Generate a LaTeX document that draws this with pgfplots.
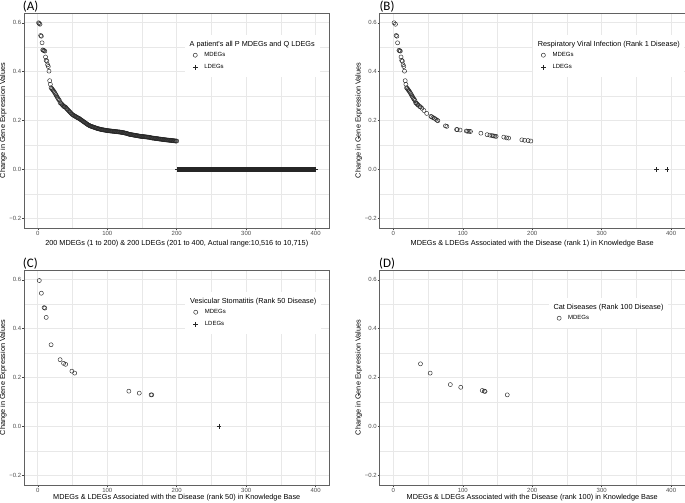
\documentclass[border=0pt]{standalone}
\usepackage{fontspec}
\setmainfont{Liberation Sans}
\newfontfamily\panelfont{Carlito}
\usepackage{pgfplots}
\usepackage{pgfplotstable}
\pgfplotsset{compat=1.18}

\definecolor{gridc}{RGB}{232,232,232}

% panel (A): all 200 MDEGs of the patient
\pgfplotstableread{
x y
1 0.600
2 0.597
3 0.594
4 0.548
5 0.545
6 0.518
7 0.489
8 0.487
9 0.486
10 0.484
11 0.460
12 0.446
13 0.443
14 0.428
15 0.421
16 0.402
17 0.363
18 0.348
19 0.334
20 0.331
21 0.327
22 0.323
23 0.319
24 0.315
25 0.310
26 0.305
27 0.300
28 0.295
29 0.290
30 0.286
31 0.282
32 0.273
33 0.271
34 0.268
35 0.265
36 0.262
37 0.258
38 0.257
39 0.256
40 0.254
41 0.250
42 0.247
43 0.244
44 0.241
45 0.238
46 0.235
47 0.232
48 0.229
49 0.226
50 0.224
51 0.222
52 0.220
53 0.218
54 0.217
55 0.215
56 0.213
57 0.212
58 0.210
59 0.209
60 0.207
61 0.205
62 0.203
63 0.201
64 0.199
65 0.197
66 0.195
67 0.193
68 0.191
69 0.189
70 0.187
71 0.185
72 0.183
73 0.181
74 0.180
75 0.178
76 0.177
77 0.176
78 0.175
79 0.174
80 0.173
81 0.172
82 0.171
83 0.170
84 0.169
85 0.168
86 0.167
87 0.166
88 0.166
89 0.165
90 0.164
91 0.163
92 0.163
93 0.162
94 0.162
95 0.161
96 0.161
97 0.160
98 0.160
99 0.159
100 0.159
101 0.158
102 0.158
103 0.158
104 0.157
105 0.157
106 0.157
107 0.156
108 0.156
109 0.156
110 0.155
111 0.155
112 0.155
113 0.154
114 0.154
115 0.154
116 0.153
117 0.153
118 0.153
119 0.152
120 0.152
121 0.151
122 0.151
123 0.150
124 0.150
125 0.149
126 0.148
127 0.148
128 0.147
129 0.146
130 0.145
131 0.144
132 0.143
133 0.143
134 0.142
135 0.142
136 0.141
137 0.141
138 0.140
139 0.140
140 0.139
141 0.139
142 0.138
143 0.138
144 0.137
145 0.137
146 0.136
147 0.136
148 0.135
149 0.135
150 0.135
151 0.134
152 0.134
153 0.134
154 0.133
155 0.133
156 0.133
157 0.132
158 0.132
159 0.132
160 0.131
161 0.131
162 0.130
163 0.129
164 0.129
165 0.128
166 0.128
167 0.128
168 0.127
169 0.127
170 0.126
171 0.126
172 0.126
173 0.125
174 0.125
175 0.124
176 0.124
177 0.124
178 0.123
179 0.123
180 0.122
181 0.122
182 0.122
183 0.121
184 0.121
185 0.121
186 0.120
187 0.120
188 0.120
189 0.119
190 0.119
191 0.119
192 0.118
193 0.118
194 0.118
195 0.117
196 0.117
197 0.117
198 0.116
199 0.116
200 0.116
}\mdegA

% panel (B): rank 1 disease
\pgfplotstableread{
x y
1 0.600
3 0.594
4 0.548
5 0.545
6 0.518
8 0.487
9 0.486
10 0.484
11 0.460
12 0.446
13 0.443
14 0.428
15 0.421
16 0.402
17 0.363
18 0.348
19 0.334
20 0.331
21 0.327
22 0.323
23 0.319
24 0.315
25 0.310
26 0.305
27 0.300
28 0.295
29 0.290
30 0.286
31 0.282
32 0.273
33 0.271
34 0.268
35 0.265
36 0.262
38 0.257
39 0.256
41 0.250
44 0.241
48 0.229
54 0.217
55 0.215
57 0.212
59 0.209
61 0.205
63 0.201
64 0.199
75 0.178
77 0.176
91 0.163
92 0.163
96 0.161
105 0.157
107 0.156
109 0.156
111 0.155
126 0.148
135 0.142
139 0.140
142 0.138
144 0.137
146 0.136
148 0.135
159 0.132
163 0.129
166 0.128
185 0.121
189 0.119
194 0.118
198 0.116
}\mdegB

% panel (C): rank 50 disease
\pgfplotstableread{
x y
2 0.597
5 0.545
9 0.486
10 0.484
12 0.446
19 0.334
32 0.273
37 0.258
40 0.254
49 0.226
53 0.218
131 0.144
146 0.136
163 0.129
164 0.129
}\mdegC

% panel (D): rank 100 disease
\pgfplotstableread{
x y
39 0.256
53 0.218
82 0.171
97 0.160
128 0.147
131 0.144
132 0.143
164 0.129
}\mdegD

\tikzset{
  legtitle/.style={anchor=base west, inner sep=0pt, font=\fontsize{7.3}{8}\selectfont},
  panellabel/.style={anchor=base west, inner sep=0pt, font=\panelfont\fontsize{13}{15}\selectfont},
}

\pgfplotsset{
  gg/.style={
    scale only axis, width=305.5pt, height=215pt,
    xmin=-20, xmax=420, ymin=-0.24, ymax=0.64,
    xtick={0,100,200,300,400}, xticklabels={0,100,200,300,400},
    ytick={-0.2,0,0.2,0.4,0.6}, yticklabels={−0.2,0.0,0.2,0.4,0.6},
    minor xtick={50,150,250,350}, minor ytick={-0.1,0.1,0.3,0.5},
    grid=both,
    major grid style={draw=gridc, line width=0.9pt},
    minor grid style={draw=gridc, line width=0.45pt},
    axis line style={draw=black!62, line width=0.75pt},
    tick align=outside, major tick length=2pt, minor tick length=0pt,
    xtick pos=lower, ytick pos=left,
    major tick style={draw=black!75, line width=0.5pt},
    tick label style={font=\fontsize{6}{7}\selectfont, text=black!70},
    xticklabel style={inner sep=0.9pt},
    yticklabel style={inner sep=0.6pt},
    every axis y label/.style={at={(axis description cs:-0.068,0.5)}, rotate=90,
      anchor=center, font=\fontsize{7.3}{8}\selectfont},
    every axis x label/.style={at={(axis description cs:0.5,-0.072)},
      anchor=center, font=\fontsize{7.3}{8}\selectfont},
    ylabel={Change in Gene Expression Values},
    legend style={draw=none, fill=none, inner sep=0pt, anchor=north west,
      row sep=6.5pt, column sep=6.85pt, font=\fontsize{6}{7}\selectfont,
      nodes={inner sep=0pt, text height=4.4pt, text depth=1.1pt},
      cells={anchor=west}},
    legend image code/.code={\draw[#1] plot coordinates {(0pt,0pt)};},
  },
  mdeg/.style={only marks, mark=o, color=black!85, mark size=2.05pt,
    mark options={line width=0.45pt}},
  ldeg/.style={only marks, mark=+, color=black!85, mark size=2.3pt,
    mark options={line width=0.5pt}},
}

\begin{document}
\begin{tikzpicture}
\useasboundingbox (0pt,0pt) rectangle (685pt,503pt);

% ---------------- (A)
\begin{axis}[gg, at={(24pt,275pt)}, anchor=south west,
  xlabel={200 MDEGs (1 to 200) \& 200 LDEGs (201 to 400, Actual range:10,516 to 10,715)},
  legend style={at={(rel axis cs:0.5524,0.8174)}}]
\addplot[mdeg] table {\mdegA};
\addlegendentry{MDEGs}
\addplot[ldeg] coordinates {
(201,0) (202,0) (203,0) (204,0) (205,0) (206,0) (207,0) (208,0) (209,0) (210,0)
(211,0) (212,0) (213,0) (214,0) (215,0) (216,0) (217,0) (218,0) (219,0) (220,0)
(221,0) (222,0) (223,0) (224,0) (225,0) (226,0) (227,0) (228,0) (229,0) (230,0)
(231,0) (232,0) (233,0) (234,0) (235,0) (236,0) (237,0) (238,0) (239,0) (240,0)
(241,0) (242,0) (243,0) (244,0) (245,0) (246,0) (247,0) (248,0) (249,0) (250,0)
(251,0) (252,0) (253,0) (254,0) (255,0) (256,0) (257,0) (258,0) (259,0) (260,0)
(261,0) (262,0) (263,0) (264,0) (265,0) (266,0) (267,0) (268,0) (269,0) (270,0)
(271,0) (272,0) (273,0) (274,0) (275,0) (276,0) (277,0) (278,0) (279,0) (280,0)
(281,0) (282,0) (283,0) (284,0) (285,0) (286,0) (287,0) (288,0) (289,0) (290,0)
(291,0) (292,0) (293,0) (294,0) (295,0) (296,0) (297,0) (298,0) (299,0) (300,0)
(301,0) (302,0) (303,0) (304,0) (305,0) (306,0) (307,0) (308,0) (309,0) (310,0)
(311,0) (312,0) (313,0) (314,0) (315,0) (316,0) (317,0) (318,0) (319,0) (320,0)
(321,0) (322,0) (323,0) (324,0) (325,0) (326,0) (327,0) (328,0) (329,0) (330,0)
(331,0) (332,0) (333,0) (334,0) (335,0) (336,0) (337,0) (338,0) (339,0) (340,0)
(341,0) (342,0) (343,0) (344,0) (345,0) (346,0) (347,0) (348,0) (349,0) (350,0)
(351,0) (352,0) (353,0) (354,0) (355,0) (356,0) (357,0) (358,0) (359,0) (360,0)
(361,0) (362,0) (363,0) (364,0) (365,0) (366,0) (367,0) (368,0) (369,0) (370,0)
(371,0) (372,0) (373,0) (374,0) (375,0) (376,0) (377,0) (378,0) (379,0) (380,0)
(381,0) (382,0) (383,0) (384,0) (385,0) (386,0) (387,0) (388,0) (389,0) (390,0)
(391,0) (392,0) (393,0) (394,0) (395,0) (396,0) (397,0) (398,0) (399,0) (400,0)
};
\addlegendentry{LDEGs}
\fill[white] (rel axis cs:0.527,0.7023) rectangle (rel axis cs:0.9705,0.8977);
\node[legtitle] at (rel axis cs:0.5417,0.8433) {A patient\textquotesingle s all P MDEGs and Q LDEGs};
\end{axis}

% ---------------- (B)
\begin{axis}[gg, at={(379.5pt,275pt)}, anchor=south west,
  xlabel={MDEGs \& LDEGs Associated with the Disease (rank 1) in Knowledge Base},
  legend style={at={(rel axis cs:0.5282,0.8174)}}]
\addplot[mdeg] table {\mdegB};
\addlegendentry{MDEGs}
\addplot[ldeg] coordinates {(379,0) (394,0)};
\addlegendentry{LDEGs}
\fill[white] (rel axis cs:0.5034,0.7023) rectangle (rel axis cs:0.997,0.8977);
\node[legtitle] at (rel axis cs:0.5178,0.8433) {Respiratory Viral Infection (Rank 1 Disease)};
\end{axis}

% ---------------- (C)
\begin{axis}[gg, at={(24pt,18pt)}, anchor=south west,
  every axis x label/.append style={at={(axis description cs:0.5,-0.058)}},
  xlabel={MDEGs \& LDEGs Associated with the Disease (rank 50) in Knowledge Base},
  legend style={at={(rel axis cs:0.554,0.8174)}}]
\addplot[mdeg] table {\mdegC};
\addlegendentry{MDEGs}
\addplot[ldeg] coordinates {(261,0)};
\addlegendentry{LDEGs}
\fill[white] (rel axis cs:0.5286,0.7023) rectangle (rel axis cs:0.9722,0.8977);
\node[legtitle] at (rel axis cs:0.5434,0.8433) {Vesicular Stomatitis (Rank 50 Disease)};
\end{axis}

% ---------------- (D)
\begin{axis}[gg, at={(379.5pt,18pt)}, anchor=south west,
  every axis x label/.append style={at={(axis description cs:0.5,-0.058)}},
  xlabel={MDEGs \& LDEGs Associated with the Disease (rank 100) in Knowledge Base},
  legend style={at={(rel axis cs:0.5807,0.7895)}}]
\addplot[mdeg] table {\mdegD};
\addlegendentry{MDEGs}
\fill[white] (rel axis cs:0.5548,0.7302) rectangle (rel axis cs:0.9454,0.8698);
\node[legtitle] at (rel axis cs:0.5689,0.8153) {Cat Diseases (Rank 100 Disease)};
\end{axis}

% panel letters
\node[panellabel] at (22.7pt,492pt) {(A)};
\node[panellabel] at (379.3pt,492pt) {(B)};
\node[panellabel] at (22.7pt,235pt) {(C)};
\node[panellabel] at (379pt,235pt) {(D)};
\end{tikzpicture}
\end{document}
